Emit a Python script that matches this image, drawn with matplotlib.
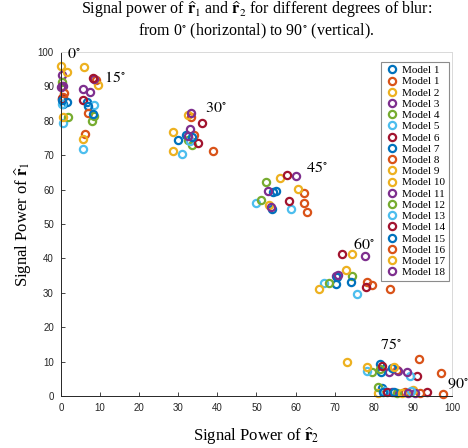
import matplotlib
matplotlib.use("Agg")
import matplotlib.pyplot as plt

plt.rcParams['font.family'] = ['Liberation Serif', 'DejaVu Serif']
plt.rcParams['mathtext.fontset'] = 'stix'

# colores por defecto de MATLAB
ciclo = ['#0072BD', '#D95319', '#EDB120', '#7E2F8E', '#77AC30', '#4DBEEE', '#A2142F']

angulos = [0, 15, 30, 45, 60, 75, 90]

# potencia de r2 (x) y r1 (y) por angulo, un valor por modelo (18 modelos)
x_0 = [0.6, 0.6, 0.0, 0.3, 0.3, 0.6, 0.3, 1.5, 0.4, 1.7, 0.6, 1.9, 0.3, 0.2, 0.3, 0.8, 0.6, 0.1]
y_0 = [85, 87, 96, 93.3, 91.4, 79.4, 90, 85.5, 86.5, 94.3, 90.1, 81, 84.8, 86.3, 86, 88, 81.2, 89.8]
x_15 = [6.8, 9.1, 9.4, 8.5, 8.0, 8.5, 5.7, 7.0, 7.0, 6.0, 5.7, 8.4, 5.7, 8.1, 8.3, 6.1, 5.7, 7.4]
y_15 = [85.6, 91.8, 90.3, 92.1, 80, 84.6, 86, 84.2, 82.2, 95.5, 89.2, 81.5, 71.7, 92.4, 82, 76.2, 74.6, 88.3]
x_30 = [31.9, 33.2, 32.6, 33.2, 32.6, 30.9, 36.0, 30.0, 34.1, 28.7, 33.0, 33.4, 33.0, 35.0, 33.5, 38.8, 28.6, 32.5]
y_30 = [76, 81.2, 81.7, 82.4, 74.4, 70.3, 79.5, 74.4, 75.9, 76.8, 77.5, 73, 74, 73.4, 75.3, 71.1, 71.1, 75.5]
x_45 = [54.3, 62.2, 56.0, 60.0, 52.4, 50.0, 57.9, 55.0, 62.2, 60.5, 52.9, 51.1, 58.8, 58.4, 53.9, 62.8, 53.3, 53.6]
y_45 = [59.2, 59.1, 63.3, 64, 62.3, 56.2, 64.2, 59.7, 56.2, 60.2, 59.6, 57, 54.5, 56.8, 54.5, 53.4, 55.5, 55]
x_60 = [70.3, 78.2, 74.3, 77.7, 74.3, 67.3, 71.8, 74.2, 79.5, 72.9, 70.3, 68.6, 75.8, 77.9, 70.5, 84.1, 66.0, 70.8]
y_60 = [32.7, 33.2, 41.3, 40.8, 34.9, 32.9, 41.3, 33.2, 32.4, 36.6, 34.9, 32.9, 29.7, 31.8, 34.5, 31.1, 31, 35.3]
x_75 = [81.6, 91.6, 73.1, 84.0, 79.6, 78.2, 91.0, 81.8, 85.9, 78.2, 86.2, 81.5, 89.3, 82.0, 84.6, 97.2, 85.2, 88.4]
y_75 = [9.3, 10.8, 9.8, 6.9, 7.1, 7.3, 5.8, 6.9, 7.6, 8.5, 7.3, 8, 5.9, 8.8, 8.2, 6.6, 8.3, 7]
x_90 = [82.0, 88.0, 81.0, 84.6, 81.0, 82.5, 93.7, 82.4, 91.9, 90.1, 90.5, 86.0, 89.5, 83.3, 85.1, 97.6, 87.3, 88.8]
y_90 = [2.2, 1.3, 1.0, 1.1, 2.5, 1.6, 1.3, 1.3, 1.0, 1.7, 0.8, 1.0, 1.5, 1.2, 1.2, 0.6, 0.8, 1.0]

xs = [x_0, x_15, x_30, x_45, x_60, x_75, x_90]
ys = [y_0, y_15, y_30, y_45, y_60, y_75, y_90]

# etiquetas de angulo (borde izquierdo, centro vertical, en datos)
etiq_x = [1.5, 11.0, 36.8, 62.7, 74.7, 81.6, 98.7]
etiq_y = [99.1, 92.4, 83.4, 66.3, 43.9, 14.8, 3.5]

n_modelos = 18
leyenda = ["Model 1"] + ["Model %d" % k for k in range(1, n_modelos + 1)]

fig = plt.figure(figsize=(4.68, 4.48), dpi=100)
ax = fig.add_axes([0.130, 0.116, 0.836, 0.768])

series = []
for m in range(n_modelos):
    px = [xs[a][m] for a in range(len(angulos))]
    py = [ys[a][m] for a in range(len(angulos))]
    h, = ax.plot(px, py, linestyle='none', marker='o', markersize=5.2,
                 markerfacecolor='none', markeredgecolor=ciclo[m % 7],
                 markeredgewidth=1.6, clip_on=False)
    series.append(h)

for a, ang in enumerate(angulos):
    ax.text(etiq_x[a], etiq_y[a], r"$%d^{\circ}$" % ang, fontsize=11.5,
            ha='left', va='center', clip_on=False)

ax.set_xlim(0, 100)
ax.set_ylim(0, 100)
ax.set_xticks(range(0, 101, 10))
ax.set_yticks(range(0, 101, 10))
ax.tick_params(direction='in', length=3, labelsize=7, colors='#262626', width=0.6, pad=5)
for lbl in ax.get_xticklabels() + ax.get_yticklabels():
    lbl.set_family('Liberation Sans')
for s in ['left', 'bottom']:
    ax.spines[s].set_color('#262626')
    ax.spines[s].set_linewidth(0.7)
for s in ['top', 'right']:
    ax.spines[s].set_color('#d9d9d9')
    ax.spines[s].set_linewidth(0.7)

ax.set_xlabel(r"Signal Power of $\widehat{\mathbf{r}}_2$", fontsize=12, labelpad=9)
ax.set_ylabel(r"Signal Power of $\widehat{\mathbf{r}}_1$", fontsize=12, labelpad=3)
ax.set_title("Signal power of $\\widehat{\\mathbf{r}}_1$ and $\\widehat{\\mathbf{r}}_2$ for different degrees of blur:\n"
             "from 0$^{\\circ}$ (horizontal) to 90$^{\\circ}$ (vertical).", fontsize=11.5, pad=12,
             linespacing=1.1)

# la leyenda original tiene 19 textos para 18 marcadores
handles = [series[0]] + [series[k] if k < 10 else series[k - 1] for k in range(1, n_modelos + 1)]
leg = ax.legend(handles, leyenda, loc='upper right', bbox_to_anchor=(0.993, 0.972),
                borderaxespad=0, fontsize=8, labelspacing=0.13, handletextpad=0.25,
                handlelength=1.3, borderpad=0.35, fancybox=False, framealpha=1,
                edgecolor='#8c8c8c')
leg.get_frame().set_linewidth(0.8)

fig.savefig("out.png", dpi=100)
